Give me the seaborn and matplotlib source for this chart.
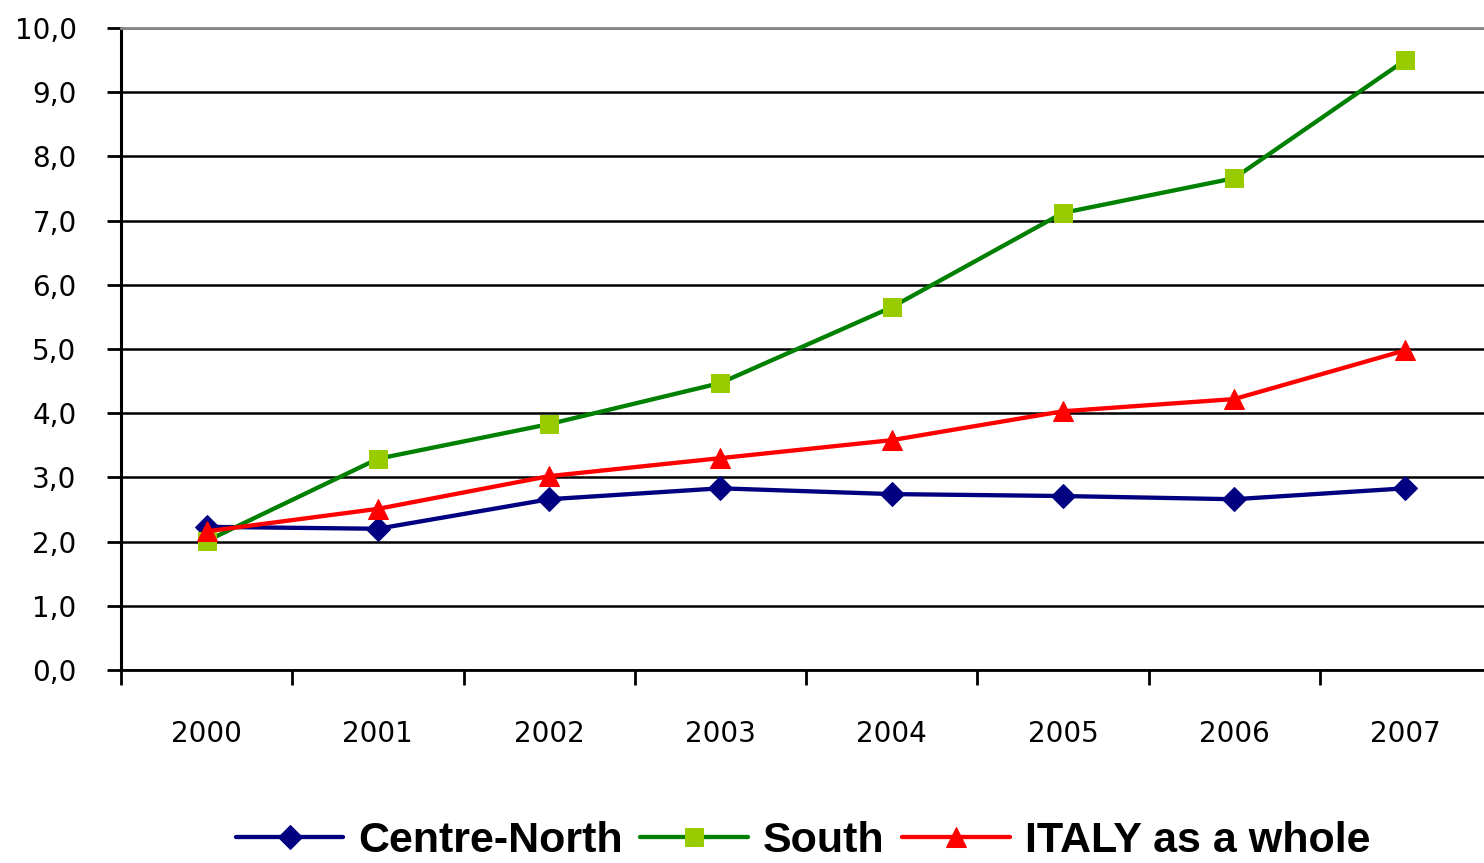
import matplotlib
matplotlib.use("Agg")
import matplotlib.pyplot as plt
import seaborn as sns
import pandas as pd
import numpy as np

years = ["2000", "2001", "2002", "2003", "2004", "2005", "2006", "2007"]
centre_north = [2.23, 2.20, 2.66, 2.83, 2.74, 2.71, 2.66, 2.83]
south = [2.01, 3.29, 3.83, 4.47, 5.65, 7.12, 7.66, 9.50]
italy = [2.16, 2.51, 3.02, 3.30, 3.58, 4.03, 4.22, 4.98]
y_ticks = [0, 1, 2, 3, 4, 5, 6, 7, 8, 9, 10]

sns.set_style("white")
plt.rcParams["font.family"] = ["DejaVu Sans"]
plt.rcParams["text.color"] = "black"
plt.rcParams["xtick.color"] = "black"
plt.rcParams["ytick.color"] = "black"

fig = plt.figure(figsize=(14.84, 8.63), dpi=100)
ax = fig.add_axes([121 / 1484, 193 / 863, 1370 / 1484, 642 / 863])

series = [
    ("Centre-North", centre_north, "#000080", "D", "#000080", 12),
    ("South", south, "#008000", "s", "#99CC00", 13),
    ("ITALY as a whole", italy, "#FF0000", "^", "#FF0000", 14),
]
for name, vals, col, mk, fc, ms in series:
    df = pd.DataFrame({"year": years, "value": vals})
    sns.lineplot(data=df, x="year", y="value", ax=ax, color=col, marker=mk,
                 markersize=ms, markerfacecolor=fc, markeredgecolor=fc,
                 linewidth=3.1, label=name, zorder=3)

ax.set_ylim(0, 10)
ax.set_xlim(-0.5, len(years) - 0.5)
ax.set_yticks(y_ticks)
ax.set_yticklabels([f"{v:.1f}".replace(".", ",") for v in y_ticks])
ax.set_xticks(np.arange(-0.5, len(years)), labels=[""] * (len(years) + 1))
ax.set_xticks(np.arange(len(years)), labels=years, minor=True)
ax.tick_params(axis="x", which="major", bottom=True, length=11, width=2,
               color="black", direction="out")
ax.tick_params(axis="x", which="minor", bottom=True, length=0, pad=36,
               labelsize=20, labelcolor="black")
ax.tick_params(axis="y", left=True, length=10, width=2, color="black",
               direction="out", pad=22, labelsize=20, labelcolor="black")
ax.yaxis.grid(True, color="black", linewidth=1.8)
ax.set_axisbelow(True)
ax.set_xlabel("")
ax.set_ylabel("")

ax.spines["right"].set_visible(False)
ax.spines["top"].set_color("#888888")
ax.spines["top"].set_linewidth(2)
ax.spines["left"].set_color("black")
ax.spines["left"].set_linewidth(2.2)
ax.spines["bottom"].set_color("black")
ax.spines["bottom"].set_linewidth(2)

leg = ax.legend(loc="upper center", bbox_to_anchor=((803 - 121) / 1370, -0.175),
                ncol=3, frameon=False, handlelength=2.5, columnspacing=0.4,
                handletextpad=0.35,
                prop={"family": "Liberation Sans", "weight": "bold", "size": 31})
for t in leg.get_texts():
    t.set_color("black")

fig.savefig("out.png", dpi=100)
